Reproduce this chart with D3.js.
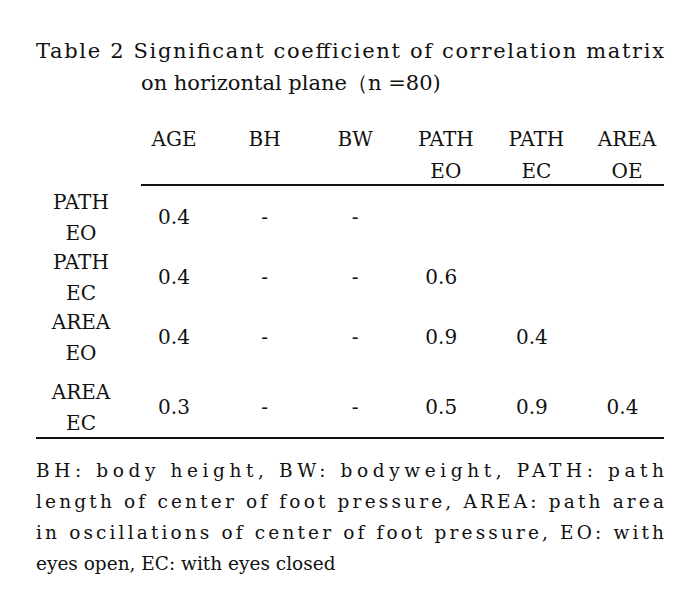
<!DOCTYPE html>
<html><head><meta charset="utf-8">
<script src="https://cdn.jsdelivr.net/npm/d3@7"></script>
<style>body{margin:0;background:#fff}text{font-family:"DejaVu Serif","Liberation Serif",serif;fill:#111}</style>
</head><body>
<script>
// table data
var columns = [["AGE"],["BH"],["BW"],["PATH","EO"],["PATH","EC"],["AREA","OE"]];
var rowLabels = [["PATH","EO"],["PATH","EC"],["AREA","EO"],["AREA","EC"]];
var cells = [
  ["0.4","-","-","","",""],
  ["0.4","-","-","0.6","",""],
  ["0.4","-","-","0.9","0.4",""],
  ["0.3","-","-","0.5","0.9","0.4"]
];
var footnote = [
  "BH: body height, BW: bodyweight, PATH: path",
  "length of center of foot pressure, AREA: path area",
  "in oscillations of center of foot pressure, EO: with",
  "eyes open, EC: with eyes closed"
];

var svg = d3.select("body").append("svg").attr("width",700).attr("height",614);

// title
svg.append("text").attr("x",36).attr("y",58).attr("font-size",21)
  .attr("textLength",628).attr("lengthAdjust","spacing")
  .text("Table 2   Significant coefficient of correlation matrix");
svg.append("text").attr("x",141).attr("y",90).attr("font-size",21)
  .text("on horizontal plane（n =80)");

var x = d3.scalePoint().domain(d3.range(columns.length)).range([174,627]);
var y = d3.scaleOrdinal().domain(d3.range(4)).range([217,277,337,407]);

// header
columns.forEach(function(c,i){
  c.forEach(function(s,j){
    svg.append("text").attr("x",x(i)).attr("y",146+j*32).attr("text-anchor","middle")
      .attr("font-size",20).text(s);
  });
});
svg.append("line").attr("x1",141).attr("x2",664).attr("y1",185).attr("y2",185)
  .attr("stroke","#111").attr("stroke-width",2);

// rows
rowLabels.forEach(function(r,i){
  r.forEach(function(s,j){
    svg.append("text").attr("x",81).attr("y",y(i)-8+j*31).attr("text-anchor","middle")
      .attr("font-size",20).text(s);
  });
  cells[i].forEach(function(v,k){
    svg.append("text").attr("x",x(k)-(k>=3?x.step()*0.05:0)).attr("y",y(i)+7).attr("text-anchor","middle")
      .attr("font-size",20).text(v);
  });
});
svg.append("line").attr("x1",36).attr("x2",664).attr("y1",438).attr("y2",438)
  .attr("stroke","#111").attr("stroke-width",2);

// footnote
footnote.forEach(function(s,i){
  var t = svg.append("text").attr("x",36).attr("y",477+i*31).attr("font-size",18.5).text(s);
  if(i<footnote.length-1) t.attr("textLength",628).attr("lengthAdjust","spacing");
});
</script>
</body></html>
